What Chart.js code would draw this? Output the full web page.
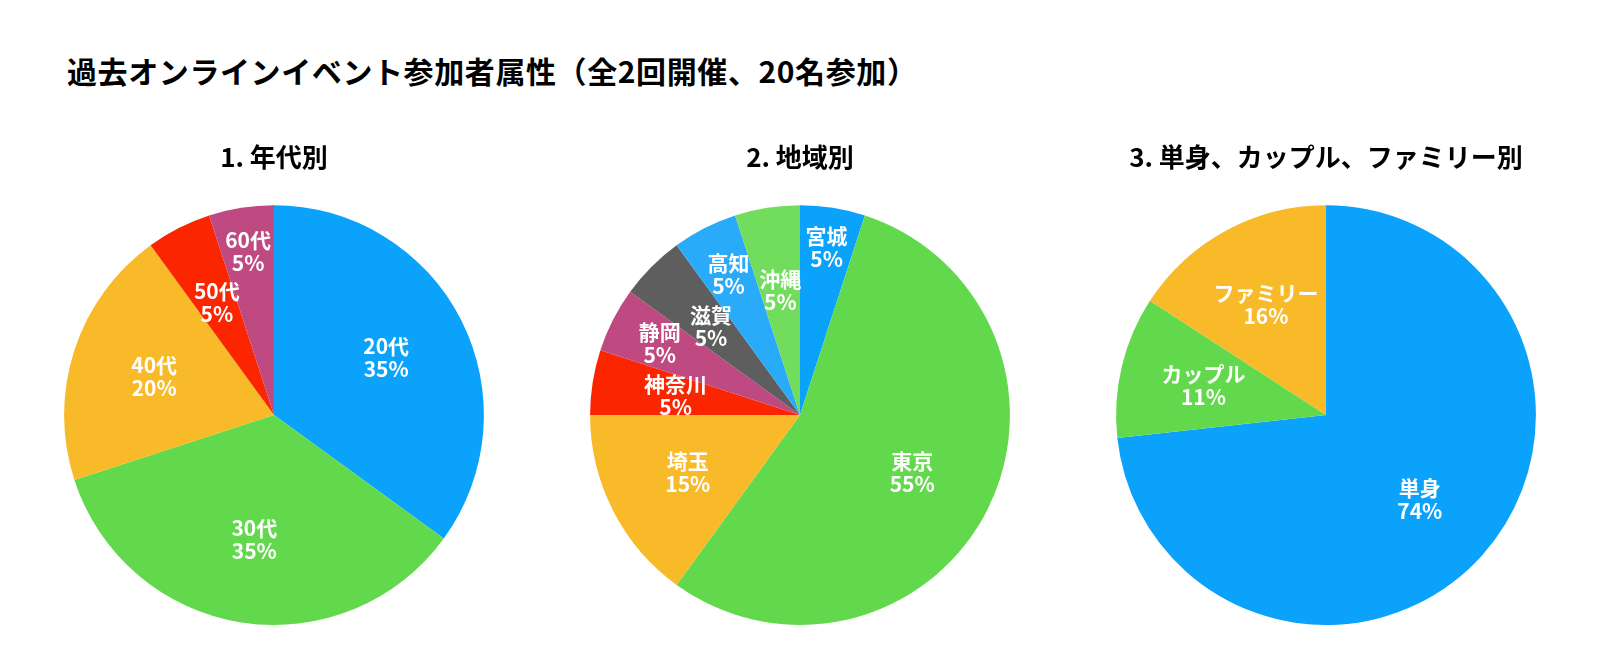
<!DOCTYPE html>
<html lang="ja">
<head>
  <meta charset="UTF-8">
  <title>過去オンラインイベント参加者属性</title>
  <script src="https://cdn.jsdelivr.net/npm/chart.js"></script>
  <style>
    html, body {
      margin: 0;
      padding: 0;
      background: #fff;
    }
    body {
      width: 1600px;
      height: 668px;
      position: relative;
      overflow: hidden;
      font-family: "Noto Sans CJK JP", "Noto Sans", sans-serif;
    }
    #mainTitle {
      position: absolute;
      left: 67px;
      top: 54px;
      font-size: 30px;
      font-weight: bold;
      letter-spacing: 0.6px;
      line-height: 33px;
      color: #000;
      white-space: nowrap;
    }
    .pie {
      position: absolute;
      top: 130px;
      width: 526px;
      height: 500px;
    }
  </style>
</head>
<body>

  <div id="mainTitle">過去オンラインイベント参加者属性（全2回開催、20名参加）</div>

  <div class="pie" style="left: 11px;"><canvas id="ageChart"></canvas></div>
  <div class="pie" style="left: 537px;"><canvas id="regionChart"></canvas></div>
  <div class="pie" style="left: 1063px;"><canvas id="householdChart"></canvas></div>

  <script>
    // 1. 年代別
    const ageLabels = ["20代", "30代", "40代", "50代", "60代"];
    const ageValues = [35, 35, 20, 5, 5];

    // 2. 地域別
    const regionLabels = ["宮城", "東京", "埼玉", "神奈川", "静岡", "滋賀", "高知", "沖縄"];
    const regionValues = [5, 55, 15, 5, 5, 5, 5, 5];

    // 3. 単身、カップル、ファミリー別
    const householdLabels = ["単身", "カップル", "ファミリー"];
    const householdValues = [74, 11, 16];

    const BLUE = "#0aa2fb";
    const GREEN = "#62d94c";
    const YELLOW = "#f8ba28";
    const RED = "#fb2600";
    const MAGENTA = "#be4a81";
    const GRAY = "#5e5e5e";
    const LIGHT_BLUE = "#2aabfa";
    const LIGHT_GREEN = "#72dd5c";

    const FONT = "'Noto Sans CJK JP', 'Noto Sans', sans-serif";

    // draws "name / NN%" inside each slice
    const sliceLabels = {
      id: "sliceLabels",
      afterDatasetsDraw(chart, args, opts) {
        const ctx = chart.ctx;
        const meta = chart.getDatasetMeta(0);
        const values = chart.data.datasets[0].data;
        const radii = opts.radii || [];
        ctx.save();
        ctx.fillStyle = "#fff";
        ctx.font = "bold 21px " + FONT;
        ctx.textAlign = "center";
        ctx.textBaseline = "middle";
        meta.data.forEach((arc, i) => {
          const p = arc.getProps(["x", "y", "startAngle", "endAngle", "outerRadius"], true);
          const mid = (p.startAngle + p.endAngle) / 2;
          const r = p.outerRadius * (radii[i] || 0.6);
          const x = p.x + Math.cos(mid) * r;
          const y = p.y + Math.sin(mid) * r;
          ctx.fillText(chart.data.labels[i], x, y - 11.5);
          ctx.fillText(values[i] + "%", x, y + 11.5);
        });
        ctx.restore();
      }
    };

    function makePie(id, title, labels, values, colors, radii) {
      return new Chart(document.getElementById(id), {
        type: "pie",
        data: {
          labels,
          datasets: [{
            data: values,
            backgroundColor: colors,
            borderWidth: 0
          }]
        },
        options: {
          responsive: true,
          maintainAspectRatio: false,
          animation: false,
          layout: { padding: { bottom: 5 } },
          plugins: {
            legend: { display: false },
            tooltip: { enabled: false },
            title: {
              display: true,
              text: title,
              color: "#000",
              font: { family: FONT, size: 26, weight: "bold", lineHeight: 1.2 },
              padding: { top: 12, bottom: 32 }
            },
            sliceLabels: { radii }
          }
        },
        plugins: [sliceLabels]
      });
    }

    makePie("ageChart", "1. 年代別", ageLabels, ageValues,
      [BLUE, GREEN, YELLOW, RED, MAGENTA],
      [0.6, 0.6, 0.6, 0.6, 0.79]);

    makePie("regionChart", "2. 地域別", regionLabels, regionValues,
      [BLUE, GREEN, YELLOW, RED, MAGENTA, GRAY, LIGHT_BLUE, LIGHT_GREEN],
      [0.81, 0.6, 0.6, 0.6, 0.75, 0.6, 0.75, 0.6]);

    makePie("householdChart", "3. 単身、カップル、ファミリー別", householdLabels, householdValues,
      [BLUE, GREEN, YELLOW],
      [0.6, 0.6, 0.6]);
  </script>
</body>
</html>
